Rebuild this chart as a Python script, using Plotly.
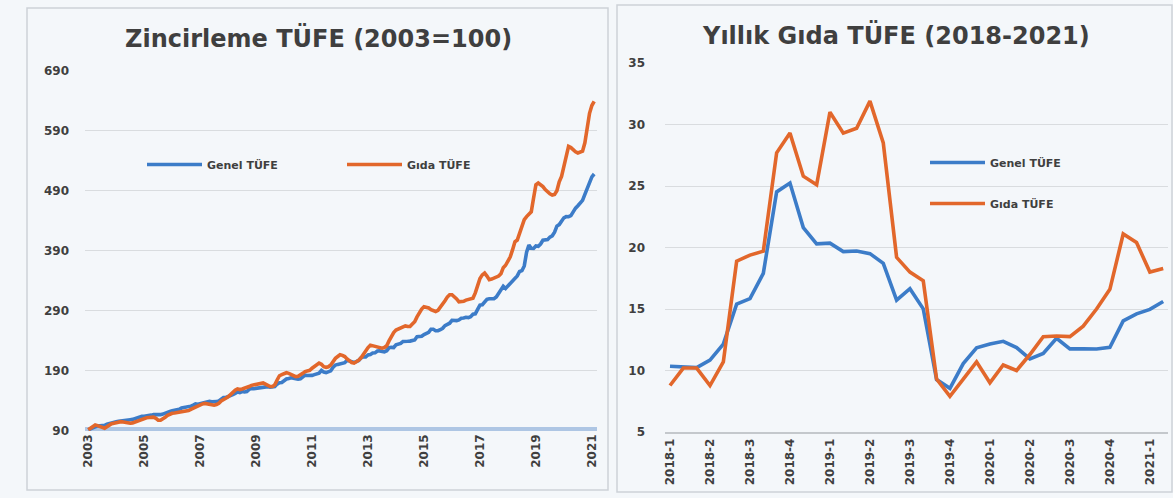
import plotly.graph_objects as go

# ---------------- data ----------------
# Left: chained CPI (2003=100), monthly Jan-2003 .. Feb-2021
genel_index = [
    92.0, 94.0, 96.0, 97.5, 98.5, 98.8, 99.0, 99.5, 101.2, 102.5, 104.0, 104.5,
    105.5, 106.2, 107.0, 107.8, 108.5, 108.6, 108.8, 109.3, 110.8, 112.8, 114.0, 114.3,
    114.5, 114.7, 115.5, 116.4, 117.2, 117.2, 116.6, 117.2, 118.2, 120.0, 121.8, 122.6,
    123.6, 124.0, 124.3, 126.1, 128.2, 128.7, 130.2, 130.4, 131.4, 133.0, 135.0, 134.5,
    135.4, 136.2, 137.6, 139.1, 139.3, 138.7, 138.2, 138.9, 140.1, 142.6, 145.6, 145.8,
    147.0, 148.2, 150.4, 152.5, 154.9, 154.1, 155.7, 155.0, 155.6, 159.2, 160.9, 160.4,
    160.9, 162.1, 162.5, 162.5, 163.2, 163.8, 163.0, 163.1, 164.1, 168.1, 170.4, 170.9,
    174.1, 176.6, 177.6, 178.7, 178.0, 177.0, 176.2, 176.9, 179.1, 183.0, 182.4, 181.8,
    182.6, 183.9, 184.7, 186.3, 190.8, 188.1, 187.3, 188.7, 190.1, 196.3, 199.7, 200.9,
    202.0, 203.1, 203.7, 207.9, 206.9, 204.8, 204.2, 205.4, 207.5, 211.8, 213.5, 213.2,
    216.7, 217.4, 219.8, 220.1, 223.2, 223.4, 222.4, 221.7, 223.7, 228.6, 229.3, 229.0,
    233.5, 234.2, 235.8, 239.2, 239.9, 239.4, 239.7, 240.2, 241.6, 246.9, 247.8, 247.7,
    250.5, 252.2, 254.3, 259.4, 259.5, 257.1, 257.0, 258.7, 261.1, 265.5, 267.9, 269.5,
    274.4, 273.8, 273.8, 275.0, 277.7, 278.1, 279.3, 278.8, 280.4, 284.4, 285.1, 292.5,
    299.7, 300.3, 304.0, 309.2, 310.3, 309.9, 310.3, 313.3, 319.4, 325.2, 331.1, 327.4,
    331.6, 335.3, 337.8, 343.0, 348.2, 355.6, 357.0, 364.9, 387.6, 399.5, 394.2, 393.9,
    398.1, 397.5, 401.3, 407.6, 408.5, 408.7, 412.9, 415.1, 421.0, 431.2, 433.7, 440.5,
    445.0, 447.0, 446.9, 448.6, 455.6, 461.1, 465.1, 468.6, 474.1, 483.9, 494.2, 504.8,
    513.3, 518.0,
]
gida_index = [
    92, 95, 98, 100, 99, 97, 95, 94.5, 97, 100, 102, 103,
    104, 105, 105.5, 105, 104, 103, 103, 103.5, 105, 107, 109, 110,
    111, 112, 112.5, 113, 113, 111, 108, 108, 110, 113, 116, 118,
    119.5, 120, 120.5, 121, 122, 122, 123, 124, 126, 128, 130, 131,
    133, 135, 136, 135, 134, 133, 133, 134, 136, 140, 143, 144.5,
    147, 151, 155.5, 158, 160, 159, 160, 161, 162, 164, 166, 167,
    168, 169, 169.5, 170, 168, 166, 164, 164, 167, 175, 182, 184,
    186, 187, 186, 184, 182, 180.5, 181, 183, 186, 189, 190, 191,
    194.5, 197, 199, 203, 201, 197, 196, 197, 200, 206, 211, 214,
    217, 216, 214, 210, 206, 204, 203, 205, 208, 212, 218, 224,
    229, 233, 232, 231, 231, 229, 228, 229, 232, 240, 248, 254,
    258, 260, 262, 264, 265, 264, 264, 268, 272, 280, 288, 293,
    297, 296, 295, 292, 290, 289, 291, 296, 300, 307, 313, 317,
    317, 314, 310, 305, 305, 306, 308, 309, 310, 311, 320, 333,
    344, 350, 353, 348, 342, 343, 345, 347, 348, 352, 362, 366,
    372, 380, 392, 405, 408, 418, 430, 442, 447, 452, 455, 478,
    500, 503, 500, 497, 492, 488, 485, 483, 484, 490, 505, 514,
    530, 552, 564, 562, 558, 555, 553, 554, 556, 570, 598, 619,
    632, 639,
]
left_tick_labels = ["2003", "2005", "2007", "2009", "2011", "2013", "2015",
                    "2017", "2019", "2021"]

# Right: annual inflation (%), monthly Jan-2018 .. Feb-2021
genel_annual = [
    10.35, 10.26, 10.23, 10.85, 12.15, 15.39, 15.85, 17.90, 24.52, 25.24, 21.62, 20.30,
    20.35, 19.67, 19.71, 19.50, 18.71, 15.72, 16.65, 15.01, 9.26, 8.55, 10.56, 11.84,
    12.15, 12.37, 11.86, 10.94, 11.39, 12.62, 11.76, 11.77, 11.75, 11.89, 14.03, 14.60,
    14.97, 15.61,
]
gida_annual = [
    8.78, 10.2, 10.2, 8.78, 10.7, 18.89, 19.38, 19.7, 27.7, 29.3, 25.8, 25.1,
    31.0, 29.3, 29.7, 31.9, 28.5, 19.2, 18.0, 17.3, 9.3, 7.9, 9.3, 10.7,
    9.0, 10.45, 10.0, 11.3, 12.75, 12.8, 12.75, 13.6, 15.0, 16.6, 21.1, 20.4,
    18.0, 18.3,
]
right_tick_labels = ["2018-1", "2018-2", "2018-3", "2018-4", "2019-1", "2019-2",
                     "2019-3", "2019-4", "2020-1", "2020-2", "2020-3", "2020-4",
                     "2021-1"]

series_names = ["Genel TÜFE", "Gıda TÜFE"]
left_title = "Zincirleme TÜFE (2003=100)"
right_title = "Yıllık Gıda TÜFE (2018-2021)"

# ---------------- style ----------------
W, H = 1173, 498
BLUE = "#3c7cc8"
ORANGE = "#e2672b"
BG = "#f4f7fa"
TXT = "#3f3f3f"
GRID = "#d9dcdf"
FONT = "DejaVu Sans"


def px(xp):
    return xp / W


def py(yp):
    return (H - yp) / H


left_x = list(range(len(genel_index)))
right_x = list(range(len(genel_annual)))

fig = go.Figure()
fig.add_trace(go.Scatter(x=left_x, y=genel_index, mode="lines", name=series_names[0],
                         line=dict(color=BLUE, width=3.6), xaxis="x", yaxis="y",
                         legend="legend"))
fig.add_trace(go.Scatter(x=left_x, y=gida_index, mode="lines", name=series_names[1],
                         line=dict(color=ORANGE, width=3.6), xaxis="x", yaxis="y",
                         legend="legend"))
fig.add_trace(go.Scatter(x=right_x, y=genel_annual, mode="lines", name=series_names[0],
                         line=dict(color=BLUE, width=3.6), xaxis="x2", yaxis="y2",
                         legend="legend2", legendgroup="g1"))
fig.add_trace(go.Scatter(x=right_x, y=gida_annual, mode="lines", name=series_names[1],
                         line=dict(color=ORANGE, width=3.6), xaxis="x2", yaxis="y2",
                         legend="legend2", legendgroup="g2"))

tick_font = dict(family=FONT, size=12, color=TXT, weight="bold")
leg_font = dict(family=FONT, size=11, color=TXT, weight="bold")

fig.update_layout(
    width=W, height=H, autosize=False,
    margin=dict(l=0, r=0, t=0, b=0),
    paper_bgcolor=BG, plot_bgcolor=BG,
    showlegend=True,
    xaxis=dict(domain=[px(85), px(597)], range=[-1.4, 218.2],
               tickvals=[i * 24 for i in range(len(left_tick_labels))],
               ticktext=left_tick_labels, tickangle=-90, tickfont=tick_font,
               showgrid=False, zeroline=False, showline=False, ticks="",
               automargin=False, anchor="y"),
    yaxis=dict(domain=[py(431), py(70.7)], range=[90, 690],
               tickvals=[90, 190, 290, 390, 490, 590, 690],
               tickfont=tick_font, showgrid=True, gridcolor=GRID, gridwidth=1,
               zeroline=False, showline=False, ticks="", ticklabelstandoff=15,
               automargin=False, anchor="x"),
    xaxis2=dict(domain=[px(665), px(1168)], range=[-0.375, 37.36],
                tickvals=[i * 3 for i in range(len(right_tick_labels))],
                ticktext=right_tick_labels, tickangle=-90, tickfont=tick_font,
                showgrid=False, zeroline=False, showline=True, linecolor="#c4c8cc",
                linewidth=1.5, ticks="", automargin=False, anchor="y2"),
    yaxis2=dict(domain=[py(432), py(63)], range=[5, 35], dtick=5,
                tickfont=tick_font, showgrid=True, gridcolor=GRID, gridwidth=1,
                zeroline=False, showline=False, ticks="", ticklabelstandoff=19,
                automargin=False, anchor="x2"),
    legend=dict(orientation="h", x=px(142), y=py(150), xanchor="left", yanchor="top",
                bgcolor="rgba(0,0,0,0)", entrywidth=130, entrywidthmode="pixels",
                itemwidth=55, font=leg_font),
    legend2=dict(orientation="v", x=px(925), y=py(148), xanchor="left", yanchor="top",
                 bgcolor="rgba(0,0,0,0)", tracegroupgap=22, itemwidth=55,
                 font=leg_font),
    annotations=[
        dict(text=left_title, x=px(318), y=py(38), xref="paper", yref="paper",
             showarrow=False, xanchor="center", yanchor="middle",
             font=dict(family=FONT, size=24, color=TXT, weight="bold")),
        dict(text=right_title, x=px(896), y=py(35), xref="paper", yref="paper",
             showarrow=False, xanchor="center", yanchor="middle",
             font=dict(family=FONT, size=24, color=TXT, weight="bold")),
    ],
    shapes=[
        dict(type="rect", xref="paper", yref="paper", x0=px(27), x1=px(608),
             y0=py(490), y1=py(8), line=dict(color="#cdd2d8", width=1.5),
             fillcolor="rgba(0,0,0,0)", layer="below"),
        dict(type="rect", xref="paper", yref="paper", x0=px(617), x1=px(1172),
             y0=py(492), y1=py(5), line=dict(color="#cdd2d8", width=1.5),
             fillcolor="rgba(0,0,0,0)", layer="below"),
        dict(type="line", xref="x domain", yref="y", x0=0, x1=1, y0=90, y1=90,
             line=dict(color="#aec6e4", width=8), layer="below"),
    ],
)

fig.write_html(
    "out.html",
    config={"displayModeBar": False},
    post_script="document.body.style.margin='0';document.body.style.overflow='hidden';",
)
